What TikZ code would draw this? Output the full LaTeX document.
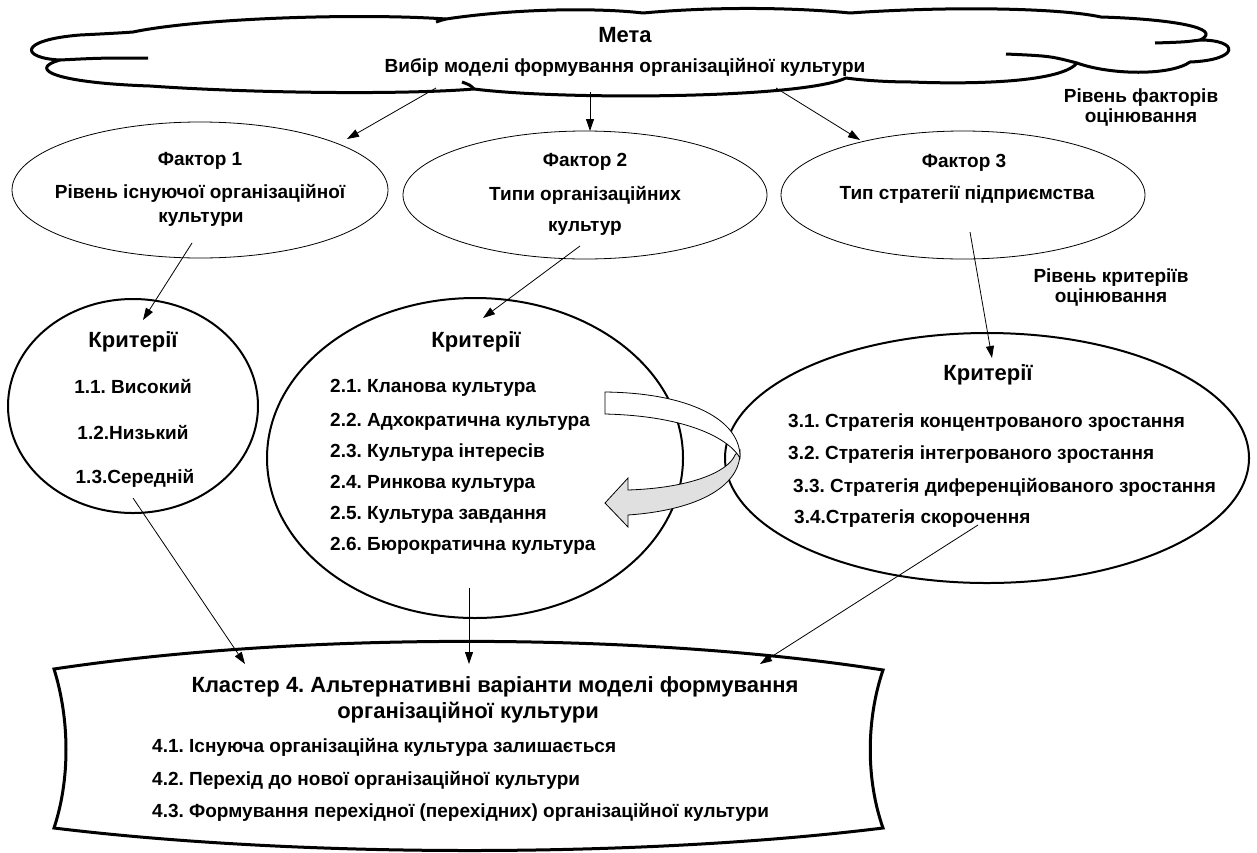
\documentclass[tikz,border=0pt]{standalone}
\usepackage{fontspec}
\setmainfont{Liberation Sans}
\usetikzlibrary{arrows.meta,shapes.geometric}
\newcommand\bodyfont{\fontsize{19}{21}\selectfont\bfseries}
\newcommand\headfont{\fontsize{22}{24}\selectfont\bfseries}
\frenchspacing
\begin{document}
\begin{tikzpicture}[x=1pt,y=-1pt,
  txt/.style={font=\bodyfont,inner sep=0pt},
  hd/.style={font=\headfont,inner sep=0pt},
  lt/.style={txt,anchor=west},
  factorell/.style={ellipse,draw,line width=0.8pt,inner sep=0pt},
  critell/.style={ellipse,draw,line width=2pt,inner sep=0pt},
  link/.style={line width=0.8pt,-{Triangle[length=12pt,width=8pt]}},
  plain/.style={line width=0.8pt},
  heavy/.style={line width=3pt,line join=round}]
\useasboundingbox (0,0) rectangle (1257,852);
% cloud
\draw[heavy,fill=white] (60,60) .. controls (20,58) and (18,40) .. (80,35)
  .. controls (100,34) and (120,33) .. (133,32)
  .. controls (200,18) and (360,13) .. (446,19)
  .. controls (520,8) and (600,8) .. (643,13)
  .. controls (720,6) and (800,8) .. (850,13)
  .. controls (950,6) and (1060,8) .. (1101,17)
  .. controls (1170,19) and (1225,28) .. (1200,40)
  .. controls (1240,40) and (1240,60) .. (1190,62)
  .. controls (1170,76) and (1110,75) .. (1077,63)
  .. controls (1060,84) and (960,84) .. (912,82)
  .. controls (885,82) and (860,80) .. (846,78)
  .. controls (800,99) and (560,100) .. (474,89)
  .. controls (400,95) and (250,93) .. (150,86)
  .. controls (60,83) and (25,70) .. (60,60) -- cycle;
\draw[heavy] (60,60) .. controls (100,58) .. (148,58);
\draw[heavy] (446,19) .. controls (442,20) .. (436,22);
\draw[heavy] (1200,40) .. controls (1185,42) .. (1155,43);
\draw[heavy] (1077,63) .. controls (1050,56) .. (1006,54);
\draw[heavy] (474,89) .. controls (470,85) .. (462,82);
\node[hd] (meta) at (625,35) {Мета};
\node[txt] (goal) at (625,67) {Вибір моделі формування організаційної культури};
\node[txt] (lvlfa) at (1141,98) {Рівень факторів};
\node[txt] (lvlfb) at (1141,118) {оцінювання};
\node[txt] (lvlka) at (1111,278) {Рівень критеріїв};
\node[txt] (lvlkb) at (1111,298) {оцінювання};
% factor ellipses
\node[factorell,minimum width=376pt,minimum height=136pt] (f1) at (200,190) {};
\node[factorell,minimum width=364pt,minimum height=128pt] (f2) at (585,195) {};
\node[factorell,minimum width=364pt,minimum height=128pt] (f3) at (963,195) {};
\node[txt] (f1a) at (200,161) {Фактор 1};
\node[txt] (f1b) at (200,193) {Рівень існуючої організаційної};
\node[txt] (f1c) at (201,219) {культури};
\node[txt] (f2a) at (585,162) {Фактор 2};
\node[txt] (f2b) at (585,195) {Типи організаційних};
\node[txt] (f2c) at (585,228) {культур};
\node[txt] (f3a) at (964,163) {Фактор 3};
\node[txt] (f3b) at (967,195) {Тип стратегії підприємства};
% criteria ellipses
\node[critell,minimum width=250pt,minimum height=214pt] (k1) at (133,406) {};
\node[critell,minimum width=416pt,minimum height=320pt] (k2) at (475,458) {};
\node[critell,minimum width=524pt,minimum height=250pt] (k3) at (987,458) {};
\node[hd] (k1h) at (133,342) {Критерії};
\node[txt] (k1a) at (133,387) {1.1. Високий};
\node[txt] (k1b) at (133,433) {1.2.Низький};
\node[txt] (k1c) at (135,478) {1.3.Середній};
\node[hd] (k2h) at (476,342) {Критерії};
\node[lt] (k2a) at (330,388) {2.1. Кланова культура};
\node[lt] (k2b) at (330,422) {2.2. Адхократична культура};
\node[lt] (k2c) at (330,453) {2.3. Культура інтересів};
\node[lt] (k2d) at (330,484) {2.4. Ринкова культура};
\node[lt] (k2e) at (330,515) {2.5. Культура завдання};
\node[lt] (k2f) at (330,546) {2.6. Бюрократична культура};
\node[hd] (k3h) at (988,375) {Критерії};
\node[lt] (k3a) at (788,423) {3.1. Стратегія концентрованого зростання};
\node[lt] (k3b) at (788,455) {3.2. Стратегія інтегрованого зростання};
\node[lt] (k3c) at (793,487) {3.3. Стратегія диференційованого зростання};
\node[lt] (k3d) at (794,519) {3.4.Стратегія скорочення};
% ribbon arrow
\draw[plain,fill=black!12] (740,450) .. controls (742,485) and (700,510) .. (628,515)
  -- (628,527) -- (605,503) -- (628,478) -- (628,490)
  .. controls (690,488) and (728,472) .. (735,455) -- cycle;
\draw[plain,fill=white] (605,392) .. controls (690,393) and (741,420) .. (740,458)
  .. controls (730,440) and (690,416) .. (605,414) -- cycle;
% cluster shape
\draw[heavy,line join=miter,fill=white] (54,669) .. controls (300,632) and (640,632) .. (883,670)
  .. controls (866,720) and (866,780) .. (883,828)
  .. controls (640,858) and (300,858) .. (54,828)
  .. controls (70,780) and (70,720) .. (54,669) -- cycle;
\node[hd] (cla) at (495,687) {Кластер 4. Альтернативні варіанти моделі формування};
\node[hd] (clb) at (468,713) {організаційної культури};
\node[lt] (cl1) at (152,747) {4.1. Існуюча організаційна культура залишається};
\node[lt] (cl2) at (152,780) {4.2. Перехід до нової організаційної культури};
\node[lt] (cl3) at (152,812) {4.3. Формування перехідної (перехідних) організаційної культури};
% connector end points
\coordinate (g1) at (436,88);
\coordinate (g2) at (590,92);
\coordinate (g3) at (776,88);
\coordinate (t1) at (347,139);
\coordinate (t2) at (590,131);
\coordinate (t3) at (860,140);
\coordinate (s1) at (192,243);
\coordinate (s2) at (580,246);
\coordinate (s3) at (970,232);
\coordinate (u1) at (143,320);
\coordinate (u2) at (483,318);
\coordinate (u3) at (992,358);
\coordinate (v1) at (133,498);
\coordinate (v2) at (469,588);
\coordinate (v3) at (978,525);
\coordinate (w1) at (245,664);
\coordinate (w2) at (469,664);
\coordinate (w3) at (760,664);
\draw[link] (g1) -- (t1);
\draw[link] (g2) -- (t2);
\draw[link] (g3) -- (t3);
\draw[link] (s1) -- (u1);
\draw[link] (s2) -- (u2);
\draw[link] (s3) -- (u3);
\draw[link] (v1) -- (w1);
\draw[link] (v2) -- (w2);
\draw[link] (v3) -- (w3);
\end{tikzpicture}
\end{document}
